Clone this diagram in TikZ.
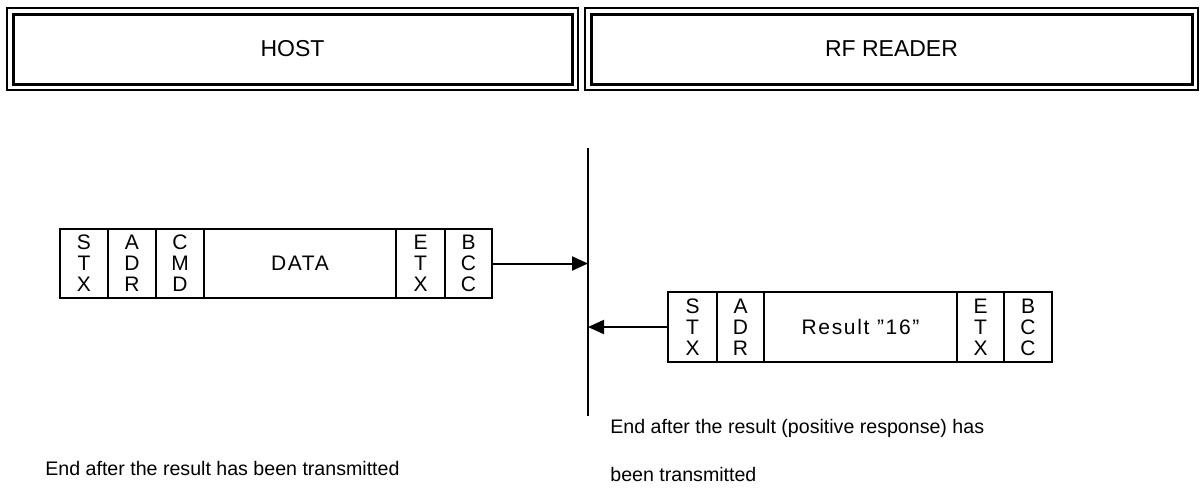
\documentclass[tikz,border=0pt]{standalone}
\usepackage{fontspec}
\setmainfont{Liberation Sans}
\newfontfamily\cellfont[LetterSpace=8]{Liberation Sans}
\usetikzlibrary{arrows.meta}
\begin{document}
\begin{tikzpicture}[x=0.5pt,y=-0.5pt,
    cell/.style={draw,line width=1pt,inner sep=0pt,align=center,
        font=\fontsize{10.5}{10.5}\selectfont},
    wide/.style={cell,font=\cellfont\fontsize{10.5}{10.5}\selectfont},
    note/.style={anchor=west,inner sep=0pt,font=\fontsize{9.8}{12}\selectfont},
    link/.style={line width=1pt,-{Triangle[length=8pt,width=7pt]}}]
        % page size
        \useasboundingbox (0,0) rectangle (1202,500);

        % Draw headers
        \draw [line width=0.8pt] (7,8) rectangle (578,90);
        \draw [line width=1.5pt] (13,14) rectangle (572,84);
        \node[font=\fontsize{11.5}{13}\selectfont] (host) at (292.5,49) {HOST};
        \draw [line width=0.8pt] (585,8) rectangle (1198,90);
        \draw [line width=1.5pt] (591,14) rectangle (1192,84);
        \node[font=\fontsize{11.5}{13}\selectfont] (reader) at (891.5,49) {RF READER};

        % time line
        \draw [line width=1pt] (588,148) coordinate (t_1) -- (588,416) coordinate (t_2);

        % host frame
        \foreach \n/\x/\w/\t in {hstx/84/48/{S\\T\\X}, hadr/132/48/{A\\D\\R},
            hcmd/180/48/{C\\M\\D}, hetx/420.5/49/{E\\T\\X}, hbcc/468.5/47/{B\\C\\C}}
           {
                \node[cell,minimum width=\w*0.5pt,minimum height=34.5pt] (\n) at (\x,263.5) {\t};
           }
        \node[wide,minimum width=96pt,minimum height=34.5pt] (hdata) at (300,263.5) {DATA};

        % reader frame
        \foreach \n/\x/\w/\t in {rstx/692.5/49/{S\\T\\X}, radr/740.5/47/{A\\D\\R},
            retx/980.5/47/{E\\T\\X}, rbcc/1028/48/{B\\C\\C}}
           {
                \node[cell,minimum width=\w*0.5pt,minimum height=35pt] (\n) at (\x,327) {\t};
           }
        \node[wide,minimum width=96.5pt,minimum height=35pt] (rres) at (860.5,327) {Result ”16”};

        \draw [link] (hbcc.east) -- (hbcc.east -| t_1);
        \draw [link] (rstx.west) -- (rstx.west -| t_1);

        \node[note] (hostend) at (45,468) {End after the result has been transmitted};
        \node[note] (readerend) at (610,428) {End after the result (positive response) has};
        \node[note] (readerend2) at (610,474) {been transmitted};
    \end{tikzpicture}
\end{document}
